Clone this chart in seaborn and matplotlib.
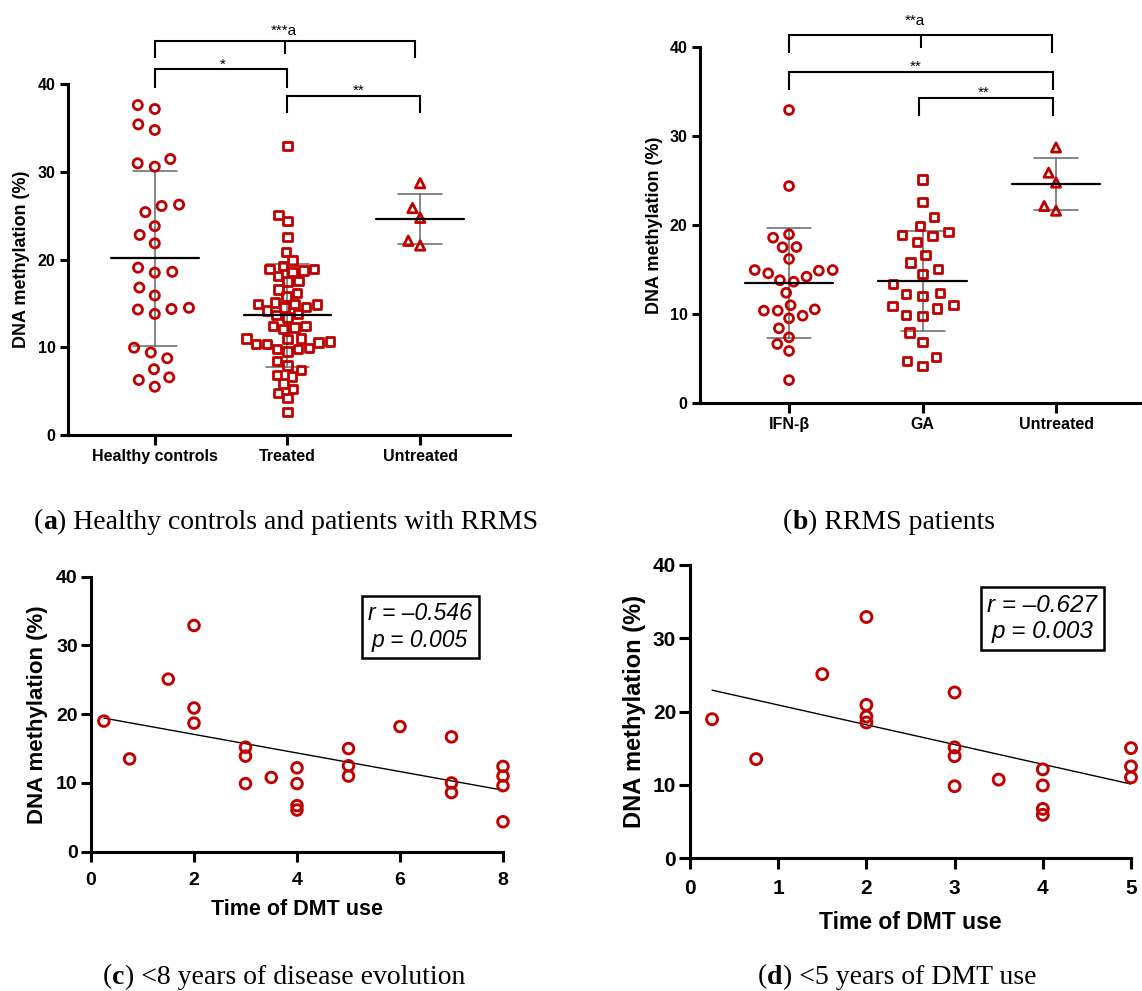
import numpy as np
import pandas as pd
import matplotlib
matplotlib.use("Agg")
import matplotlib.pyplot as plt
from matplotlib.offsetbox import TextArea, HPacker, AnnotationBbox
import seaborn as sns

# ---------------- data ----------------
healthy = [37.15, 37.6, 35.4, 34.76, 31.45, 30.96, 30.58, 26.1, 26.25, 25.4,
           23.8, 22.8, 21.84, 19.07, 18.5, 18.6, 16.8, 15.9, 14.36, 14.3,
           14.5, 13.8, 9.4, 9.95, 8.74, 7.5, 6.57, 6.27, 5.5]
ifn_beta = [32.9, 24.37, 18.95, 18.58, 17.5, 17.53, 16.19, 14.95, 14.88, 14.95,
            14.58, 14.2, 13.8, 13.64, 12.4, 10.54, 10.39, 11.0, 10.39, 9.53,
            9.83, 8.41, 7.4, 6.65, 5.87, 2.6]
ga = [25.1, 22.6, 20.86, 19.9, 18.73, 18.88, 19.25, 18.13, 16.6, 15.78,
      15.1, 14.54, 13.38, 12.26, 12.07, 12.4, 11.0, 10.95, 10.65, 9.8,
      9.9, 7.93, 6.84, 5.23, 4.78, 4.19]
untreated = [28.7, 25.87, 24.75, 22.13, 21.6]
treated = ifn_beta + ga

cats_a = ["Healthy controls", "Treated", "Untreated"]
cats_b = ["IFN-β", "GA", "Untreated"]

time_c = [0.25, 0.75, 1.5, 2, 2, 2, 3, 3, 3, 3.5, 4, 4, 4, 4, 5, 5, 5, 6, 7, 7, 7, 8, 8, 8, 8]
meth_c = [19.0, 13.5, 25.1, 32.9, 20.9, 18.7, 15.2, 13.9, 9.9, 10.8, 12.2, 9.9, 6.7, 6.06,
          15.0, 12.5, 11.0, 18.2, 16.7, 10.0, 8.6, 12.4, 11.0, 9.6, 4.36]
time_d = [0.25, 0.75, 1.5, 2, 2, 2, 2, 3, 3, 3, 3, 3.5, 4, 4, 4, 4, 5, 5, 5]
meth_d = [18.95, 13.5, 25.1, 32.9, 20.9, 19.3, 18.5, 22.6, 15.1, 13.9, 9.8, 10.7,
          12.1, 9.9, 6.7, 5.9, 15.0, 12.5, 11.0]

stats_c = "r = –0.546\np = 0.005"
stats_d = "r = –0.627\np = 0.003"

captions = [("a", " Healthy controls and patients with RRMS"),
            ("b", " RRMS patients"),
            ("c", " <8 years of disease evolution"),
            ("d", " <5 years of DMT use")]

# ---------------- style ----------------
RED = "#C00000"
GRAY = "#666666"
sns.set_theme(style="ticks")
plt.rcParams["font.family"] = ["Liberation Sans", "DejaVu Sans"]
for k in ["axes.edgecolor", "xtick.color", "ytick.color", "text.color", "axes.labelcolor"]:
    plt.rcParams[k] = "black"
plt.rcParams["axes.linewidth"] = 2.2

fig = plt.figure(figsize=(11.42, 9.91), dpi=100)
W, H = 1142, 991


def add_ax(x0, x1, ytop, ybot):
    return fig.add_axes([x0 / W, 1 - ybot / H, (x1 - x0) / W, (ybot - ytop) / H])


ax_a = add_ax(68, 510, 84, 435)
ax_b = add_ax(700, 1142, 46.7, 403.3)
ax_c = add_ax(91, 503, 576.7, 851.7)
ax_d = add_ax(690, 1131, 565, 858)

swarm_colls = []  # (collection, final marker size)


def dot_panel(ax, groups, cats, markers, place_sizes, draw_sizes, xlim):
    for vals, cat, mk, ps, ds in zip(groups, cats, markers, place_sizes, draw_sizes):
        n0 = len(ax.collections)
        sns.swarmplot(x=[cat] * len(vals), y=vals, order=cats, marker=mk,
                      size=ps, color=RED, linewidth=2.0, ax=ax, zorder=3)
        for coll in ax.collections[n0:]:
            coll.set_facecolor("none")
            coll.set_edgecolor(RED)
            coll.set_linewidth(2.0)
            swarm_colls.append((coll, ds))
        i = cats.index(cat)
        m = np.mean(vals)
        s = np.std(vals, ddof=1)
        ax.plot([i - .33, i + .33], [m, m], color="black", lw=1.6, zorder=4)
        ax.plot([i, i], [m - s, m + s], color=GRAY, lw=1.1, zorder=2)
        for yy in (m - s, m + s):
            ax.plot([i - .165, i + .165], [yy, yy], color=GRAY, lw=1.1, zorder=2)
    ax.set_xlim(*xlim)
    ax.set_ylim(0, 40)
    ax.set_yticks([0, 10, 20, 30, 40])
    ax.set_xticks([0, 1, 2])
    ax.set_xticklabels(cats, fontweight="bold", fontsize=11.5)
    for t in ax.get_yticklabels():
        t.set_fontweight("bold")
        t.set_fontsize(11.5)
    ax.tick_params(axis="x", length=7, width=2.2, pad=3)
    ax.tick_params(axis="y", length=6, width=2.2, pad=3)
    ax.set_xlabel("")
    sns.despine(ax=ax)


def bracket(ax, x1, x2, y, d, text, tx, ty, mid=None, dm=None):
    ax.plot([x1, x1, x2, x2], [d, y, y, d], color="black", lw=1.5, clip_on=False,
            solid_joinstyle="miter", solid_capstyle="butt")
    if mid is not None:
        ax.plot([mid, mid], [y, dm], color="black", lw=1.5, clip_on=False,
                solid_capstyle="butt")
    ax.text(tx, ty, text, ha="center", va="baseline", fontsize=11, clip_on=False)


# ---- panel a ----
dot_panel(ax_a, [healthy, treated, untreated], cats_a, ["o", "s", "^"],
          [10.0, 5.6, 6.8], [6.6, 6.0, 6.8], (-0.654, 2.677))
ax_a.set_ylabel("DNA methylation (%)", fontweight="bold", fontsize=13)
ax_a.yaxis.set_label_coords(-0.085, 0.5)
bracket(ax_a, 0, 1.96, 44.9, 42.96, "***a", 0.97, 45.58, mid=0.98, dm=43.4)
bracket(ax_a, 0, 1.0, 41.7, 39.6, "*", 0.51, 41.75)
bracket(ax_a, 1.0, 2.0, 38.67, 36.7, "**", 1.54, 38.72)

# ---- panel b ----
dot_panel(ax_b, [ifn_beta, ga, untreated], cats_b, ["o", "s", "^"],
          [7.5, 9.4, 6.8], [6.4, 6.0, 6.6], (-0.667, 2.644))
ax_b.set_ylabel("DNA methylation (%)", fontweight="bold", fontsize=13)
ax_b.yaxis.set_label_coords(-0.083, 0.5)
bracket(ax_b, 0, 1.97, 41.3, 39.25, "**a", 0.94, 42.4, mid=0.985, dm=39.8)
bracket(ax_b, 0, 1.975, 37.2, 35.1, "**", 0.945, 37.3)
bracket(ax_b, 0.97, 1.975, 34.28, 32.2, "**", 1.46, 34.38)


# ---- panels c / d ----
def corr_panel(ax, xs, ys, xmax, stats, fs_tick, fs_ylab, fs_xlab, fs_stat, ms, tl,
               ylab_x, xlab_y):
    sns.regplot(x=xs, y=ys, ax=ax, ci=None, color=RED, marker="o",
                scatter_kws=dict(s=ms, facecolors="none", linewidths=2.1, alpha=1,
                                 clip_on=False, zorder=3),
                line_kws=dict(color="black", lw=1.0, zorder=2))
    ax.set_xlim(0, xmax)
    ax.set_ylim(0, 40)
    ax.set_yticks([0, 10, 20, 30, 40])
    ax.set_xticks(list(range(0, xmax + 1, 2 if xmax > 5 else 1)))
    for t in ax.get_xticklabels() + ax.get_yticklabels():
        t.set_fontweight("bold")
        t.set_fontsize(fs_tick)
    ax.tick_params(axis="x", length=tl, width=2.2, pad=7)
    ax.tick_params(axis="y", length=tl, width=2.2, pad=2)
    ax.set_ylabel("DNA methylation (%)", fontweight="bold", fontsize=fs_ylab)
    ax.set_xlabel("Time of DMT use", fontweight="bold", fontsize=fs_xlab)
    ax.yaxis.set_label_coords(ylab_x, 0.5)
    ax.xaxis.set_label_coords(0.5, xlab_y)
    sns.despine(ax=ax)
    ax.text(0.799, 0.818, stats, transform=ax.transAxes, ha="center", va="center",
            fontsize=fs_stat, style="italic", linespacing=1.2,
            bbox=dict(boxstyle="square,pad=0.28", fc="white", ec="black", lw=1.8))


corr_panel(ax_c, time_c, meth_c, 8, stats_c, 14, 16, 15.5, 16.5, 58, 7.5, -0.105, -0.173)
corr_panel(ax_d, time_d, meth_d, 5, stats_d, 15, 17, 16.5, 17.5, 62, 8, -0.099, -0.180)

# ---- captions ----
cap_pos = [(286, 522), (889, 522), (284, 977), (897, 977)]
for (lab, rest), (cx, cy) in zip(captions, cap_pos):
    tp = dict(family=["Liberation Serif", "DejaVu Serif"], fontsize=20, color="black")
    tpb = dict(tp, fontweight="bold")
    box = HPacker(children=[TextArea("(", textprops=tp), TextArea(lab, textprops=tpb),
                            TextArea(")" + rest, textprops=tp)],
                  align="baseline", pad=0, sep=0)
    ab = AnnotationBbox(box, (cx, H - cy), xycoords="figure pixels", frameon=False,
                        box_alignment=(0.5, 0.5))
    fig.add_artist(ab)

# lay out the swarms with the placement sizes, then freeze them and shrink markers
fig.canvas.draw()
for coll, ds in swarm_colls:
    coll.__dict__.pop("draw", None)
    coll.set_sizes([ds ** 2])

fig.savefig("out.png", dpi=100)
